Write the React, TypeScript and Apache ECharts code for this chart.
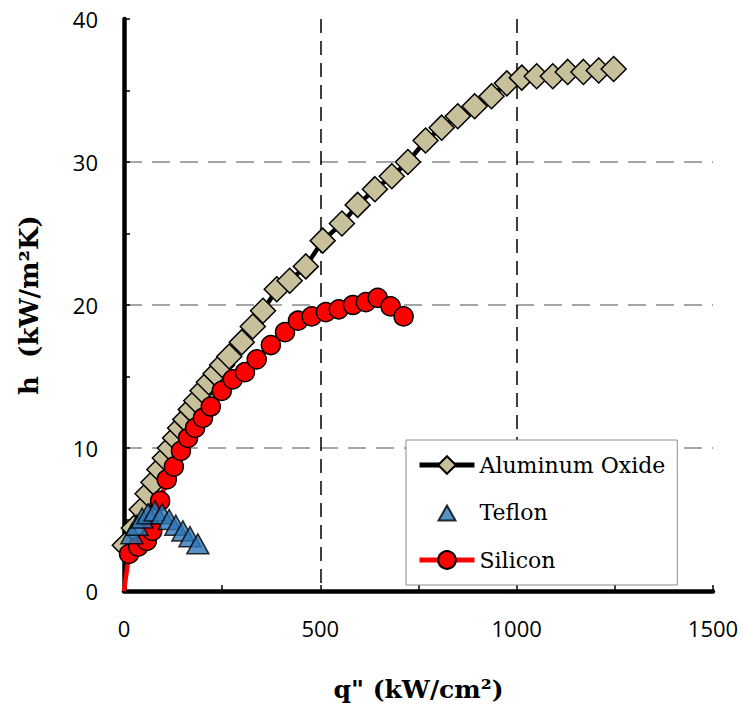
import React, { useEffect, useRef } from "react";
import * as echarts from "echarts";

const alX = [2, 25, 45, 60, 75, 90, 104, 117, 130, 143, 156, 170, 184, 200, 216, 233, 250, 268, 300, 328, 354, 389, 422, 463, 506, 555, 595, 639, 682, 723, 768, 809, 850, 893, 936, 975, 1013, 1051, 1092, 1130, 1170, 1209, 1247];
const alY = [3.2, 4.4, 5.7, 6.8, 7.6, 8.5, 9.3, 10.0, 10.7, 11.4, 12.0, 12.7, 13.3, 14.0, 14.6, 15.2, 15.8, 16.4, 17.4, 18.5, 19.6, 21.1, 21.7, 22.7, 24.5, 25.7, 27.0, 28.1, 29.0, 30.0, 31.5, 32.4, 33.2, 33.9, 34.6, 35.5, 35.9, 36.0, 36.0, 36.3, 36.3, 36.4, 36.5];

const teX = [20, 33, 46, 61, 79, 97, 115, 132, 150, 168, 188];
const teY = [4.0, 4.6, 5.1, 5.4, 5.6, 5.4, 5.0, 4.6, 4.2, 3.8, 3.3];

const siX = [0, 13, 36, 58, 72, 92, 109, 127, 145, 163, 181, 201, 221, 249, 277, 308, 338, 374, 410, 443, 478, 514, 547, 583, 616, 646, 679, 712];
const siY = [0, 2.6, 3.1, 3.5, 4.2, 6.3, 7.8, 8.7, 9.8, 10.7, 11.4, 12.1, 12.9, 14.0, 14.8, 15.3, 16.2, 17.2, 18.1, 18.9, 19.2, 19.5, 19.7, 20.0, 20.2, 20.5, 19.9, 19.2];

const seriesNames = ["Aluminum Oxide", "Teflon", "Silicon"];
const xTitle = "q\" (kW/cm²)";
const yTitle = "h  (kW/m²K)";

const triangleIcon = "path://M0,0 M22,22 M2.5,19 L11,4 L19.5,19 Z";

export default function App() {
  const ref = useRef<HTMLDivElement>(null);
  useEffect(() => {
    if (!ref.current) return;
    const chart = echarts.init(ref.current, null, { renderer: "svg" });
    const zip = (xs: number[], ys: number[]) => xs.map((x, i) => [x, ys[i]]);
    const siData = zip(siX, siY).map((p, i) => (i === 0 ? { value: p, symbolSize: 0 } : { value: p }));
    chart.setOption({
      animation: false,
      backgroundColor: "#fff",
      grid: { left: 124, right: 30, top: 19, bottom: 114 },
      xAxis: {
        type: "value",
        min: 0,
        max: 1500,
        interval: 500,
        name: xTitle,
        nameLocation: "middle",
        nameGap: 86,
        nameTextStyle: { fontFamily: "DejaVu Serif", fontWeight: "bold", fontSize: 25, color: "#000" },
        axisLine: { show: true, onZero: false, lineStyle: { color: "#000", width: 4.5 } },
        axisTick: { show: true, inside: true, length: 6, lineStyle: { color: "#000", width: 1.5 } },
        minorTick: { show: true, splitNumber: 2, length: 6, lineStyle: { color: "#000", width: 1.5 } },
        axisLabel: { fontFamily: "Open Sans", fontSize: 22, color: "#000", margin: 26, formatter: (v: number) => String(v) },
        splitLine: { show: true, showMinLine: false, showMaxLine: false, lineStyle: { color: "#000", width: 1.5, type: [14, 8] } },
      },
      yAxis: {
        type: "value",
        min: 0,
        max: 40,
        interval: 10,
        name: yTitle,
        nameLocation: "middle",
        nameGap: 82,
        nameTextStyle: { fontFamily: "DejaVu Serif", fontWeight: "bold", fontSize: 26, color: "#000" },
        axisLine: { show: true, onZero: false, lineStyle: { color: "#000", width: 4.5 } },
        axisTick: { show: true, inside: true, length: 6, lineStyle: { color: "#000", width: 1.5 } },
        minorTick: { show: true, splitNumber: 2, length: 6, lineStyle: { color: "#000", width: 1.5 } },
        axisLabel: { fontFamily: "Open Sans", fontSize: 22, color: "#000", margin: 26 },
        splitLine: { show: true, showMinLine: false, showMaxLine: false, lineStyle: { color: "#a6a6a6", width: 2, type: [18, 10] } },
      },
      legend: {
        show: true,
        data: [
          { name: seriesNames[0] },
          { name: seriesNames[1], icon: triangleIcon },
          { name: seriesNames[2] },
        ],
        orient: "vertical",
        left: 406,
        top: 440,
        backgroundColor: "#fff",
        borderColor: "#8c8c8c",
        borderWidth: 1,
        borderRadius: 0,
        padding: [14, 12, 14, 11],
        itemWidth: 55,
        itemHeight: 22,
        itemGap: 24.5,
        symbolKeepAspect: true,
        lineStyle: { width: 5 },
        textStyle: { fontFamily: "DejaVu Serif", fontSize: 22, color: "#000" },
      },
      series: [
        {
          name: seriesNames[0],
          type: "line",
          data: zip(alX, alY),
          symbol: "diamond",
          symbolSize: 25,
          lineStyle: { color: "#000", width: 4.5 },
          itemStyle: { color: "#c8bf9b", borderColor: "#000", borderWidth: 1.5 },
          z: 2,
        },
        {
          name: seriesNames[2],
          type: "line",
          data: siData,
          symbol: "circle",
          symbolSize: 19,
          showAllSymbol: true,
          lineStyle: { color: "#ff0000", width: 4.5 },
          itemStyle: { color: "#ff0000", borderColor: "#000", borderWidth: 1.5 },
          z: 3,
        },
        {
          name: seriesNames[1],
          type: "scatter",
          data: zip(teX, teY),
          symbol: "triangle",
          symbolSize: [22, 20],
          itemStyle: { color: "#2e75b6", borderColor: "#000", borderWidth: 1.5 },
          z: 4,
        },
      ],
    });
    return () => chart.dispose();
  }, []);
  return <div ref={ref} style={{ width: 743, height: 707, position: "absolute", left: 0, top: 0 }} />;
}
